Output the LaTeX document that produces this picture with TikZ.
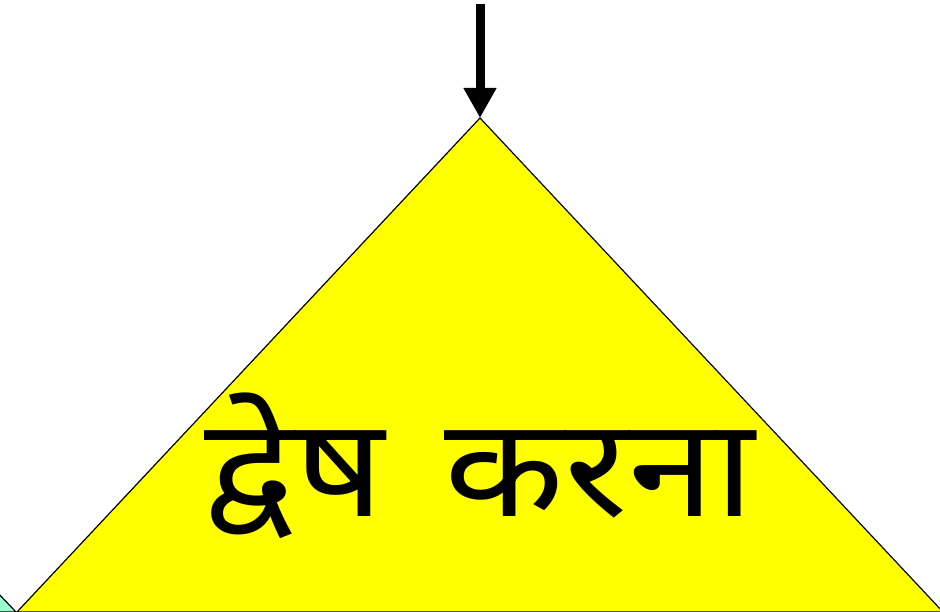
\documentclass[tikz,border=0pt]{standalone}
\usepackage{fontspec}
\newfontfamily\devfont[Script=Devanagari]{Noto Sans}
\usetikzlibrary{arrows.meta}
\definecolor{mint}{RGB}{153,255,204}
\definecolor{pyellow}{RGB}{255,255,0}
\tikzset{
  shape edge/.style={draw=black, line width=1.2pt},
  big arrow/.style={line width=9pt, -{Triangle[width=31pt,length=30pt]}},
}
\begin{document}
\begin{tikzpicture}[x=1pt, y=1pt]
    \useasboundingbox (0,0) rectangle (940,612);
    \fill[white] (0,0) rectangle (940,612);

    % neighbour shape, only its corner shows
    \filldraw[shape edge, fill=mint] (-40,0) -- (16,0) -- (-4,21) -- cycle;

    \coordinate (apex) at (480,494);
    \coordinate (left) at (17,0);
    \coordinate (right) at (943,0);
    \filldraw[shape edge, fill=pyellow] (left) -- (apex) -- (right) -- cycle;

    \node[xscale=1.13] (word) at (480,146) {\fontsize{138}{138}\selectfont\devfont द्वेष\hspace{53pt}करना};

    \coordinate (src) at (480,608);
    \draw[big arrow] (src) -- (apex);
\end{tikzpicture}
\end{document}
